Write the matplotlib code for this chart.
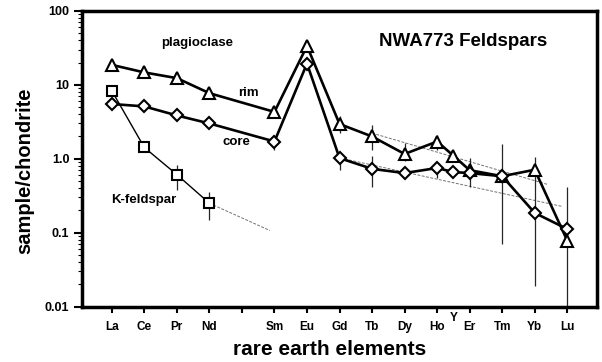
import numpy as np
import matplotlib
matplotlib.use("Agg")
import matplotlib.pyplot as plt
from matplotlib.ticker import FixedLocator, FixedFormatter, LogLocator, NullFormatter

plt.rcParams['font.family'] = ['Liberation Sans', 'DejaVu Sans']

# Element positions (atomic number; Y placed between Ho and Er)
elements = ["La", "Ce", "Pr", "Nd", "Sm", "Eu", "Gd", "Tb", "Dy", "Ho", "Y", "Er", "Tm", "Yb", "Lu"]
positions = [57, 58, 59, 60, 62, 63, 64, 65, 66, 67, 67.5, 68, 69, 70, 71]

# Axis tick labels (Pm at 61 is left blank)
tick_pos = list(range(57, 72))
tick_labels = ["La", "Ce", "Pr", "Nd", "", "Sm", "Eu", "Gd", "Tb", "Dy", "Ho", "Er", "Tm", "Yb", "Lu"]

nan = np.nan
# Plagioclase rim (chondrite normalised)
rim = [18.6, 14.7, 12.3, 7.7, 4.3, 33.5, 2.95, 2.0, 1.16, 1.71, 1.1, 0.70, 0.58, 0.71, 0.078]
rim_lo = [nan, nan, nan, nan, 3.73, nan, 2.25, 1.32, 0.92, 1.32, nan, 0.415, 0.071, nan, nan]
rim_hi = [nan, nan, nan, nan, 5.1, nan, 3.73, 2.88, 1.64, 2.11, nan, 1.03, 1.6, nan, nan]

# Plagioclase core
core = [5.5, 5.1, 3.85, 3.0, 1.71, 19.4, 1.02, 0.73, 0.64, 0.75, 0.66, 0.64, 0.58, 0.185, 0.112]
core_lo = [nan, nan, nan, nan, 1.32, nan, 0.71, 0.42, nan, 0.55, nan, nan, nan, 0.0188, 0.005]
core_hi = [nan, nan, nan, nan, 2.11, nan, 1.2, 1.1, nan, 0.83, nan, nan, nan, 1.07, 0.415]

# K-feldspar
kfs_pos = [57, 58, 59, 60]
kfs = [8.3, 1.42, 0.61, 0.25]
kfs_lo = [nan, nan, 0.38, 0.147]
kfs_hi = [nan, nan, 0.83, 0.36]

# Extrapolated trends
rim_trend_x = [65, 70.42]
rim_trend_y = [2.22, 0.446]
core_trend_x = [64.03, 70.85]
core_trend_y = [1.02, 0.226]
kfs_trend_x = [60, 61.86]
kfs_trend_y = [0.25, 0.107]

fig = plt.figure(figsize=(6.02, 3.62), dpi=100)
ax = fig.add_axes([0.136, 0.153, 0.856, 0.817])
ax.set_yscale("log")
ax.set_xlim(56.08, 71.92)
ax.set_ylim(0.01, 100)

# error bars
ax.vlines(positions, rim_lo, rim_hi, color="0.15", lw=0.9, zorder=2)
ax.vlines(positions, core_lo, core_hi, color="0.15", lw=0.9, zorder=2)
ax.vlines(kfs_pos, kfs_lo, kfs_hi, color="0.15", lw=0.9, zorder=2)

# trend lines
trend_style = dict(color="0.45", lw=0.7, ls=(0, (3, 1.5)), zorder=1)
ax.plot(rim_trend_x, rim_trend_y, **trend_style)
ax.plot(core_trend_x, core_trend_y, **trend_style)
ax.plot(kfs_trend_x, kfs_trend_y, **trend_style)

ax.plot(positions, rim, color="black", lw=1.9, marker="^", ms=9, mfc="white",
        mec="black", mew=1.5, zorder=4)
ax.plot(positions, core, color="black", lw=1.9, marker="D", ms=6, mfc="white",
        mec="black", mew=1.5, zorder=4)
ax.plot(kfs_pos, kfs, color="black", lw=1.0, marker="s", ms=7.5, mfc="white",
        mec="black", mew=1.5, zorder=4)

# annotations
ax.text(59.63, 36.6, "plagioclase", fontsize=9.5, fontweight="bold", ha="center", va="center")
ax.text(61.2, 7.73, "rim", fontsize=9.5, fontweight="bold", ha="center", va="center")
ax.text(60.84, 1.71, "core", fontsize=9.5, fontweight="bold", ha="center", va="center")
ax.text(57.98, 0.279, "K-feldspar", fontsize=9.5, fontweight="bold", ha="center", va="center")
ax.text(67.8, 38.5, "NWA773 Feldspars", fontsize=13.5, fontweight="bold", ha="center", va="center")

# x axis
ax.xaxis.set_major_locator(FixedLocator(tick_pos))
ax.xaxis.set_major_formatter(FixedFormatter(tick_labels))
ax.tick_params(axis="x", which="major", direction="out", length=4, width=1.5, pad=6,
               labelsize=8.5)
for lbl in ax.get_xticklabels():
    lbl.set_fontweight("bold")
ax.annotate("Y", xy=(67.5, 0), xycoords=("data", "axes fraction"), xytext=(0, -8.5),
            textcoords="offset points", ha="center", va="center", fontsize=8.5,
            fontweight="bold")

# y axis
ax.yaxis.set_major_locator(FixedLocator([0.01, 0.1, 1, 10, 100]))
ax.yaxis.set_major_formatter(FixedFormatter(["0.01", "0.1", "1.0", "10", "100"]))
ax.yaxis.set_minor_locator(LogLocator(base=10, subs=np.arange(2, 10)))
ax.yaxis.set_minor_formatter(NullFormatter())
ax.tick_params(axis="y", which="major", direction="out", length=6, width=1.5, pad=3,
               labelsize=9)
ax.tick_params(axis="y", which="minor", direction="out", length=3, width=0.8)
for lbl in ax.get_yticklabels():
    lbl.set_fontweight("bold")

for s in ax.spines.values():
    s.set_linewidth(2.5)

ax.set_ylabel("sample/chondrite", fontsize=14.5, fontweight="bold")
ax.yaxis.set_label_coords(-0.11, 0.46)
ax.set_xlabel("rare earth elements", fontsize=15, fontweight="bold")
ax.xaxis.set_label_coords(0.48, -0.145)
ax.xaxis.label.set_va("center")
ax.yaxis.label.set_va("center")

fig.savefig("out.png", dpi=100)
